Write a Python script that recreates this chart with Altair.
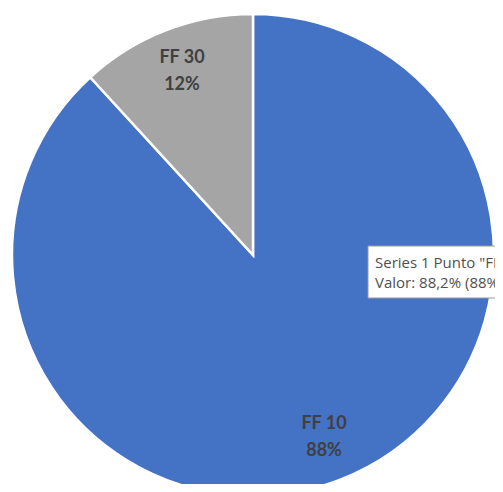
import altair as alt
import pandas as pd

categories = ["FF 10", "FF 30"]
values = [88.2, 11.8]
labels = ["88%", "12%"]
order = [1, 2]
colors = ["#4472C4", "#A5A5A5"]

tooltip_lines = ['Series 1 Punto "FF 10"', "Valor: 88,2% (88%)"]
tooltip_rows = [0, 1]

df = pd.DataFrame({"cat": categories, "val": values, "lab": labels, "ord": order})

CX, CY = 245, 247
R = 241

base = alt.Chart(df).encode(
    theta=alt.Theta("val:Q", stack=True),
    order=alt.Order("ord:Q"),
)

pie = base.mark_arc(stroke="white", strokeWidth=2.5).encode(
    color=alt.Color("cat:N", scale=alt.Scale(domain=categories, range=colors), legend=None),
    radius=alt.value(R),
    x=alt.value(CX),
    y=alt.value(CY),
)

name_txt = base.mark_text(font="Lato", fontSize=18, fontWeight="bold", color="#404040", dy=-14).encode(
    text="cat:N", radius=alt.value(196), x=alt.value(CX), y=alt.value(CY)
)
pct_txt = base.mark_text(font="Lato", fontSize=18, fontWeight="bold", color="#404040", dy=13).encode(
    text="lab:N", radius=alt.value(196), x=alt.value(CX), y=alt.value(CY)
)

tip_df = pd.DataFrame({"line": tooltip_lines, "i": tooltip_rows})
tip_box = alt.Chart(pd.DataFrame({"a": [0]})).mark_rect(
    fill="white", stroke="#9a9a9a", strokeWidth=1
).encode(x=alt.value(360), x2=alt.value(520), y=alt.value(238), y2=alt.value(290))
tip_txt = alt.Chart(tip_df).mark_text(
    font="Open Sans", fontSize=15, color="#505050", align="left", baseline="middle"
).encode(
    text="line:N",
    x=alt.value(367),
    y=alt.Y("i:Q", scale=alt.Scale(domain=[0, 1], range=[255, 275]), axis=None),
)

chart = alt.layer(pie, name_txt, pct_txt, tip_box, tip_txt).properties(
    width=487, height=476, padding=0, autosize=alt.AutoSizeParams(type="none")
).configure_view(stroke=None)

chart.save("out.html", embed_options={"renderer": "svg", "actions": False})
